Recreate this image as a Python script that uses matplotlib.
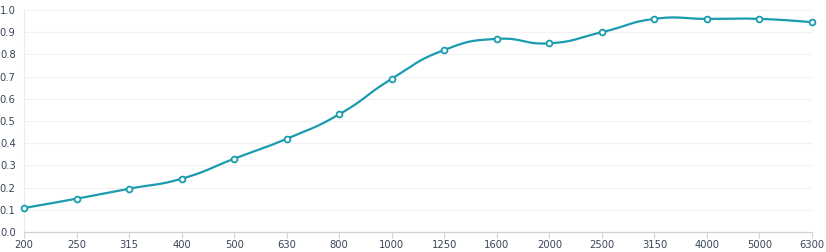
import numpy as np
import matplotlib
matplotlib.use("Agg")
import matplotlib.pyplot as plt

# frequency bands (Hz) and absorption values
freqs = ["200", "250", "315", "400", "500", "630", "800", "1000",
         "1250", "1600", "2000", "2500", "3150", "4000", "5000", "6300"]
values = [0.108, 0.15, 0.195, 0.24, 0.33, 0.42, 0.53, 0.69,
          0.82, 0.87, 0.85, 0.90, 0.96, 0.96, 0.96, 0.945]
y_ticks = [0.0, 0.1, 0.2, 0.3, 0.4, 0.5, 0.6, 0.7, 0.8, 0.9, 1.0]

LINE = "#1a9bb0"
TEXT = "#3a4657"


def smooth_curve(xs, ys, sx, sy, smooth=0.5, n=30):
    # bezier smoothing like echarts' smooth line, computed in pixel space
    px = np.asarray(xs, float) * sx
    py = np.asarray(ys, float) * sy
    out_x, out_y = [px[0]], [py[0]]
    cp0 = (px[0], py[0])
    m = len(px)
    for i in range(1, m):
        x, y = px[i], py[i]
        if i < m - 1:
            vx = px[i + 1] - px[i - 1]
            vy = py[i + 1] - py[i - 1]
            l0 = np.hypot(x - px[i - 1], y - py[i - 1])
            l1 = np.hypot(px[i + 1] - x, py[i + 1] - y)
            r = l1 / (l0 + l1)
            cp1 = (x - vx * smooth * (1 - r), y - vy * smooth * (1 - r))
            nxt = (x + vx * smooth * r, y + vy * smooth * r)
        else:
            cp1 = (x, y)
            nxt = (x, y)
        t = np.linspace(0, 1, n)[1:]
        p0 = (px[i - 1], py[i - 1])
        bx = ((1 - t) ** 3 * p0[0] + 3 * (1 - t) ** 2 * t * cp0[0]
              + 3 * (1 - t) * t ** 2 * cp1[0] + t ** 3 * x)
        by = ((1 - t) ** 3 * p0[1] + 3 * (1 - t) ** 2 * t * cp0[1]
              + 3 * (1 - t) * t ** 2 * cp1[1] + t ** 3 * y)
        out_x.extend(bx)
        out_y.extend(by)
        cp0 = nxt
    return np.array(out_x) / sx, np.array(out_y) / sy


fig = plt.figure(figsize=(8.26, 2.52), dpi=100)
ax = fig.add_axes([24 / 826, 20 / 252, 788 / 826, 222 / 252])

xs = np.arange(len(freqs))
cx, cy = smooth_curve(xs, values, 52.5, 222)
ax.plot(cx, cy, color=LINE, lw=1.6, zorder=3, solid_capstyle="round")
ax.plot(xs, values, ls="none", marker="o", ms=4.2, mfc="white",
        mec=LINE, mew=1.3, zorder=4)

ax.set_xlim(0, len(freqs) - 1)
ax.set_ylim(0, 1.0)
ax.set_xticks(xs)
ax.set_xticklabels(freqs)
ax.set_yticks(y_ticks)
ax.set_yticklabels([f"{v:.1f}" for v in y_ticks])

for v in y_ticks[1:]:
    ax.axhline(v, color="#f2f2f2", lw=0.8, zorder=0)

for side in ["top", "right"]:
    ax.spines[side].set_visible(False)
ax.spines["bottom"].set_color("#d0d3d8")
ax.spines["left"].set_color("#ebebeb")
ax.spines["bottom"].set_linewidth(0.9)
ax.spines["left"].set_linewidth(0.8)

ax.tick_params(axis="x", length=4, width=0.8, color="#d0d3d8",
               labelsize=7.2, labelcolor=TEXT, pad=2)
ax.tick_params(axis="y", length=0, labelsize=7.2, labelcolor=TEXT, pad=6)
for line in ax.lines:
    line.set_clip_on(False)

fig.savefig("out.png", dpi=100, facecolor="white")
